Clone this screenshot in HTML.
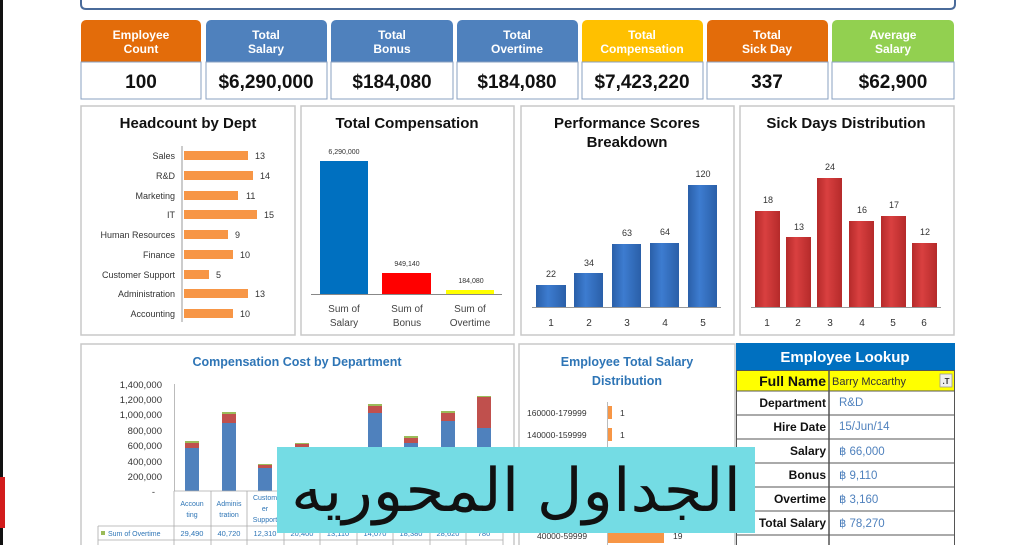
<!DOCTYPE html>
<html><head><meta charset="utf-8"><style>
html,body{margin:0;padding:0;background:#fff;}
svg{display:block;}
text{font-family:"Liberation Sans",sans-serif;}
</style></head><body>
<svg width="1024" height="545" viewBox="0 0 1024 545" xmlns="http://www.w3.org/2000/svg">
<rect width="1024" height="545" fill="#fff"/>
<rect x="0" y="0" width="3" height="545" fill="#111"/>
<rect x="0" y="477" width="5" height="51" fill="#d21c1c"/>
<!-- title box -->
<path d="M81,-5 L81,4 Q81,9 86,9 L950,9 Q955,9 955,4 L955,-5" fill="none" stroke="#4a6b9a" stroke-width="2"/>
<!-- KPI cards -->
<g font-weight="bold" text-anchor="middle">
<g>
<rect x="81" y="20" width="120" height="42" rx="5" fill="#E36C0A"/><rect x="81" y="40" width="120" height="22" fill="#E36C0A"/>
<rect x="81" y="62" width="120" height="37" fill="#fff" stroke="#8aa0c0"/>
<text x="141" y="39" font-size="12" fill="#fff">Employee</text><text x="141" y="53" font-size="12" fill="#fff">Count</text>
<text x="141" y="88" font-size="19" fill="#111">100</text>
</g>
<g>
<rect x="206" y="20" width="121" height="42" rx="5" fill="#4F81BD"/><rect x="206" y="40" width="121" height="22" fill="#4F81BD"/>
<rect x="206" y="62" width="121" height="37" fill="#fff" stroke="#8aa0c0"/>
<text x="266" y="39" font-size="12" fill="#fff">Total</text><text x="266" y="53" font-size="12" fill="#fff">Salary</text>
<text x="266" y="88" font-size="19" fill="#111">$6,290,000</text>
</g>
<g>
<rect x="331" y="20" width="122" height="42" rx="5" fill="#4F81BD"/><rect x="331" y="40" width="122" height="22" fill="#4F81BD"/>
<rect x="331" y="62" width="122" height="37" fill="#fff" stroke="#8aa0c0"/>
<text x="392" y="39" font-size="12" fill="#fff">Total</text><text x="392" y="53" font-size="12" fill="#fff">Bonus</text>
<text x="392" y="88" font-size="19" fill="#111">$184,080</text>
</g>
<g>
<rect x="457" y="20" width="121" height="42" rx="5" fill="#4F81BD"/><rect x="457" y="40" width="121" height="22" fill="#4F81BD"/>
<rect x="457" y="62" width="121" height="37" fill="#fff" stroke="#8aa0c0"/>
<text x="517" y="39" font-size="12" fill="#fff">Total</text><text x="517" y="53" font-size="12" fill="#fff">Overtime</text>
<text x="517" y="88" font-size="19" fill="#111">$184,080</text>
</g>
<g>
<rect x="582" y="20" width="121" height="42" rx="5" fill="#FFC000"/><rect x="582" y="40" width="121" height="22" fill="#FFC000"/>
<rect x="582" y="62" width="121" height="37" fill="#fff" stroke="#8aa0c0"/>
<text x="642" y="39" font-size="12" fill="#fff">Total</text><text x="642" y="53" font-size="12" fill="#fff">Compensation</text>
<text x="642" y="88" font-size="19" fill="#111">$7,423,220</text>
</g>
<g>
<rect x="707" y="20" width="121" height="42" rx="5" fill="#E36C0A"/><rect x="707" y="40" width="121" height="22" fill="#E36C0A"/>
<rect x="707" y="62" width="121" height="37" fill="#fff" stroke="#8aa0c0"/>
<text x="767" y="39" font-size="12" fill="#fff">Total</text><text x="767" y="53" font-size="12" fill="#fff">Sick Day</text>
<text x="767" y="88" font-size="19" fill="#111">337</text>
</g>
<g>
<rect x="832" y="20" width="122" height="42" rx="5" fill="#92D050"/><rect x="832" y="40" width="122" height="22" fill="#92D050"/>
<rect x="832" y="62" width="122" height="37" fill="#fff" stroke="#8aa0c0"/>
<text x="893" y="39" font-size="12" fill="#fff">Average</text><text x="893" y="53" font-size="12" fill="#fff">Salary</text>
<text x="893" y="88" font-size="19" fill="#111">$62,900</text>
</g>
</g>
<!-- panels row -->
<g fill="#fff" stroke="#c8c8c8" stroke-width="1.5">
<rect x="81" y="106" width="214" height="229"/>
<rect x="301" y="106" width="213" height="229"/>
<rect x="521" y="106" width="213" height="229"/>
<rect x="740" y="106" width="214" height="229"/>
</g>
<g font-weight="bold" font-size="15" fill="#111" text-anchor="middle">
<text x="188" y="128">Headcount by Dept</text>
<text x="407" y="128">Total Compensation</text>
<text x="627" y="128">Performance Scores</text>
<text x="627" y="147">Breakdown</text>
<text x="846" y="128">Sick Days Distribution</text>
</g>
<!-- headcount -->
<line x1="182" y1="146" x2="182" y2="322" stroke="#999"/>
<g fill="#F79646">
<rect x="184" y="151" width="64" height="9"/>
<rect x="184" y="171" width="69" height="9"/>
<rect x="184" y="191" width="54" height="9"/>
<rect x="184" y="210" width="73" height="9"/>
<rect x="184" y="230" width="44" height="9"/>
<rect x="184" y="250" width="49" height="9"/>
<rect x="184" y="270" width="25" height="9"/>
<rect x="184" y="289" width="64" height="9"/>
<rect x="184" y="309" width="49" height="9"/>
</g>
<g font-size="9" fill="#333" text-anchor="end">
<text x="175" y="159">Sales</text><text x="175" y="179">R&amp;D</text><text x="175" y="199">Marketing</text><text x="175" y="218">IT</text><text x="175" y="238">Human Resources</text><text x="175" y="258">Finance</text><text x="175" y="278">Customer Support</text><text x="175" y="297">Administration</text><text x="175" y="317">Accounting</text>
</g>
<g font-size="9" fill="#333">
<text x="255" y="159">13</text><text x="260" y="179">14</text><text x="246" y="199">11</text><text x="264" y="218">15</text><text x="235" y="238">9</text><text x="240" y="258">10</text><text x="216" y="278">5</text><text x="255" y="297">13</text><text x="240" y="317">10</text>
</g>
<!-- total compensation -->
<rect x="320" y="161" width="48" height="133" fill="#0070C0"/>
<rect x="382" y="273" width="49" height="21" fill="#FF0000"/>
<rect x="446" y="290" width="48" height="4" fill="#FFFF00"/>
<line x1="311" y1="294.5" x2="502" y2="294.5" stroke="#888"/>
<g font-size="7" fill="#333" text-anchor="middle"><text x="344" y="154">6,290,000</text><text x="407" y="266">949,140</text><text x="471" y="283">184,080</text></g>
<g font-size="10" fill="#444" text-anchor="middle">
<text x="344" y="312">Sum of</text><text x="344" y="326">Salary</text>
<text x="407" y="312">Sum of</text><text x="407" y="326">Bonus</text>
<text x="470" y="312">Sum of</text><text x="470" y="326">Overtime</text>
</g>
<!-- performance -->
<defs>
<linearGradient id="bl" x1="0" x2="1"><stop offset="0" stop-color="#2a5fa8"/><stop offset="0.4" stop-color="#3d7cd0"/><stop offset="1" stop-color="#2a5fa8"/></linearGradient>
<linearGradient id="rd" x1="0" x2="1"><stop offset="0" stop-color="#b52a2a"/><stop offset="0.4" stop-color="#d94040"/><stop offset="1" stop-color="#b52a2a"/></linearGradient>
</defs>
<g fill="url(#bl)">
<rect x="536" y="285" width="30" height="22"/><rect x="574" y="273" width="29" height="34"/><rect x="612" y="244" width="29" height="63"/><rect x="650" y="243" width="29" height="64"/><rect x="688" y="185" width="29" height="122"/>
</g>
<line x1="532" y1="307.5" x2="721" y2="307.5" stroke="#999"/>
<g font-size="9" fill="#333" text-anchor="middle">
<text x="551" y="277">22</text><text x="589" y="266">34</text><text x="627" y="236">63</text><text x="665" y="235">64</text><text x="703" y="177">120</text>
</g>
<g font-size="10" fill="#333" text-anchor="middle">
<text x="551" y="326">1</text><text x="589" y="326">2</text><text x="627" y="326">3</text><text x="665" y="326">4</text><text x="703" y="326">5</text>
</g>
<!-- sick -->
<g fill="url(#rd)">
<rect x="755" y="211" width="25" height="96"/><rect x="786" y="237" width="25" height="70"/><rect x="817" y="178" width="25" height="129"/><rect x="849" y="221" width="25" height="86"/><rect x="881" y="216" width="25" height="91"/><rect x="912" y="243" width="25" height="64"/>
</g>
<line x1="751" y1="307.5" x2="941" y2="307.5" stroke="#999"/>
<g font-size="9" fill="#333" text-anchor="middle">
<text x="768" y="203">18</text><text x="799" y="230">13</text><text x="830" y="170">24</text><text x="862" y="213">16</text><text x="894" y="208">17</text><text x="925" y="235">12</text>
</g>
<g font-size="10" fill="#333" text-anchor="middle">
<text x="767" y="326">1</text><text x="798" y="326">2</text><text x="830" y="326">3</text><text x="862" y="326">4</text><text x="893" y="326">5</text><text x="924" y="326">6</text>
</g>
<!-- bottom panels -->
<rect x="81" y="344" width="433" height="210" fill="#fff" stroke="#c8c8c8" stroke-width="1.5"/>
<rect x="519" y="344" width="216" height="210" fill="#fff" stroke="#c8c8c8" stroke-width="1.5"/>
<text x="297" y="366" font-size="12.5" font-weight="bold" fill="#2E75B6" text-anchor="middle">Compensation Cost by Department</text>
<g font-size="9.5" fill="#333" text-anchor="end">
<text x="162" y="388">1,400,000</text><text x="162" y="403">1,200,000</text><text x="162" y="418">1,000,000</text><text x="162" y="434">800,000</text><text x="162" y="449">600,000</text><text x="162" y="465">400,000</text><text x="162" y="480">200,000</text><text x="155" y="495">-</text>
</g>
<line x1="174.5" y1="384" x2="174.5" y2="491" stroke="#bbb"/>
<g>
<rect x="185" y="448" width="14" height="43" fill="#4F81BD"/><rect x="185" y="443" width="14" height="5" fill="#C0504D"/><rect x="185" y="441" width="14" height="2" fill="#9BBB59"/>
<rect x="222" y="423" width="14" height="68" fill="#4F81BD"/><rect x="222" y="414" width="14" height="9" fill="#C0504D"/><rect x="222" y="412" width="14" height="2" fill="#9BBB59"/>
<rect x="258" y="468" width="14" height="23" fill="#4F81BD"/><rect x="258" y="465" width="14" height="3" fill="#C0504D"/><rect x="258" y="464" width="14" height="1" fill="#9BBB59"/>
<rect x="295" y="447" width="14" height="44" fill="#4F81BD"/><rect x="295" y="444" width="14" height="3" fill="#C0504D"/><rect x="295" y="443" width="14" height="1" fill="#9BBB59"/>
<rect x="332" y="448" width="14" height="43" fill="#4F81BD"/>
<rect x="368" y="413" width="14" height="78" fill="#4F81BD"/><rect x="368" y="406" width="14" height="7" fill="#C0504D"/><rect x="368" y="404" width="14" height="2" fill="#9BBB59"/>
<rect x="404" y="443" width="14" height="48" fill="#4F81BD"/><rect x="404" y="438" width="14" height="5" fill="#C0504D"/><rect x="404" y="436" width="14" height="2" fill="#9BBB59"/>
<rect x="441" y="421" width="14" height="70" fill="#4F81BD"/><rect x="441" y="413" width="14" height="8" fill="#C0504D"/><rect x="441" y="411" width="14" height="2" fill="#9BBB59"/>
<rect x="477" y="428" width="14" height="63" fill="#4F81BD"/><rect x="477" y="397" width="14" height="31" fill="#C0504D"/><rect x="477" y="396" width="14" height="1" fill="#9BBB59"/>
</g>
<!-- table -->
<g stroke="#aaa" fill="none" stroke-width="0.8">
<line x1="174" y1="491" x2="503" y2="491"/>
<line x1="98" y1="526" x2="503" y2="526"/>
<line x1="98" y1="540" x2="503" y2="540"/>
<line x1="98" y1="526" x2="98" y2="545"/>
<line x1="174" y1="491" x2="174" y2="545"/><line x1="211" y1="491" x2="211" y2="545"/><line x1="247" y1="491" x2="247" y2="545"/><line x1="284" y1="491" x2="284" y2="545"/><line x1="320" y1="491" x2="320" y2="545"/><line x1="357" y1="491" x2="357" y2="545"/><line x1="393" y1="491" x2="393" y2="545"/><line x1="430" y1="491" x2="430" y2="545"/><line x1="466" y1="491" x2="466" y2="545"/><line x1="503" y1="491" x2="503" y2="545"/>
</g>
<g font-size="7" fill="#2E75B6" text-anchor="middle">
<text x="192" y="506">Accoun</text><text x="192" y="517">ting</text>
<text x="229" y="506">Adminis</text><text x="229" y="517">tration</text>
<text x="265" y="500">Custom</text><text x="265" y="511">er</text><text x="265" y="522">Support</text>
</g>
<rect x="101" y="531" width="4" height="4" fill="#9BBB59"/>
<text x="108" y="536" font-size="7" fill="#2E75B6">Sum of Overtime</text>
<g font-size="7.5" fill="#2E75B6" text-anchor="middle">
<text x="192" y="536">29,490</text><text x="229" y="536">40,720</text><text x="265" y="536">12,310</text><text x="302" y="536">20,400</text><text x="338" y="536">13,110</text><text x="375" y="536">14,070</text><text x="411" y="536">18,380</text><text x="448" y="536">28,620</text><text x="484" y="536">780</text>
</g>
<!-- salary distribution -->
<text x="627" y="366" font-size="12.5" font-weight="bold" fill="#2E75B6" text-anchor="middle">Employee Total Salary</text>
<text x="627" y="385" font-size="12.5" font-weight="bold" fill="#2E75B6" text-anchor="middle">Distribution</text>
<line x1="607.5" y1="402" x2="607.5" y2="545" stroke="#bbb"/>
<rect x="608" y="406" width="4" height="13" fill="#F79646"/>
<rect x="608" y="428" width="4" height="13" fill="#F79646"/>
<rect x="608" y="529" width="56" height="14" fill="#F79646"/>
<g font-size="8.5" fill="#333">
<text x="527" y="416">160000-179999</text><text x="527" y="438">140000-159999</text><text x="537" y="539">40000-59999</text>
<text x="620" y="416">1</text><text x="620" y="438">1</text><text x="673" y="539">19</text>
</g>
<!-- lookup -->
<rect x="736" y="343" width="219" height="27" fill="#0070C0"/>
<text x="845" y="362" font-size="15" font-weight="bold" fill="#fff" text-anchor="middle">Employee Lookup</text>
<rect x="736" y="370" width="219" height="21" fill="#FFFF00"/>
<g stroke="#555" stroke-width="1" fill="none">
<rect x="736.5" y="370.5" width="218" height="180"/>
<line x1="829" y1="370" x2="829" y2="545" stroke-width="1.5"/>
<line x1="736" y1="391" x2="955" y2="391"/><line x1="736" y1="415" x2="955" y2="415"/><line x1="736" y1="439" x2="955" y2="439"/><line x1="736" y1="463" x2="955" y2="463"/><line x1="736" y1="487" x2="955" y2="487"/><line x1="736" y1="511" x2="955" y2="511"/><line x1="736" y1="535" x2="955" y2="535"/>
</g>
<rect x="940" y="374" width="12" height="13" fill="#eee" stroke="#999" stroke-width="0.8"/>
<text x="946" y="384" font-size="8" font-weight="bold" fill="#333" text-anchor="middle">.T</text>
<text x="826" y="386" font-size="14" font-weight="bold" fill="#111" text-anchor="end">Full Name</text>
<text x="832" y="385" font-size="11" fill="#333">Barry Mccarthy</text>
<g font-size="12" font-weight="bold" fill="#111" text-anchor="end">
<text x="826" y="407">Department</text><text x="826" y="431">Hire Date</text><text x="826" y="455">Salary</text><text x="826" y="479">Bonus</text><text x="826" y="503">Overtime</text><text x="826" y="527">Total Salary</text>
</g>
<g font-size="11.5" fill="#4F81BD">
<text x="839" y="406">R&amp;D</text><text x="839" y="430">15/Jun/14</text><text x="839" y="455">฿ 66,000</text><text x="839" y="479">฿ 9,110</text><text x="839" y="503">฿ 3,160</text><text x="839" y="527">฿ 78,270</text>
</g>
<!-- overlay -->
<rect x="277" y="447" width="478" height="86" fill="#74DCE4"/>
<text x="516" y="511" font-family="'DejaVu Sans',sans-serif" font-size="60" fill="#111" text-anchor="middle" direction="rtl" textLength="450" lengthAdjust="spacingAndGlyphs">الجداول المحوريه</text>
</svg>
</body></html>
